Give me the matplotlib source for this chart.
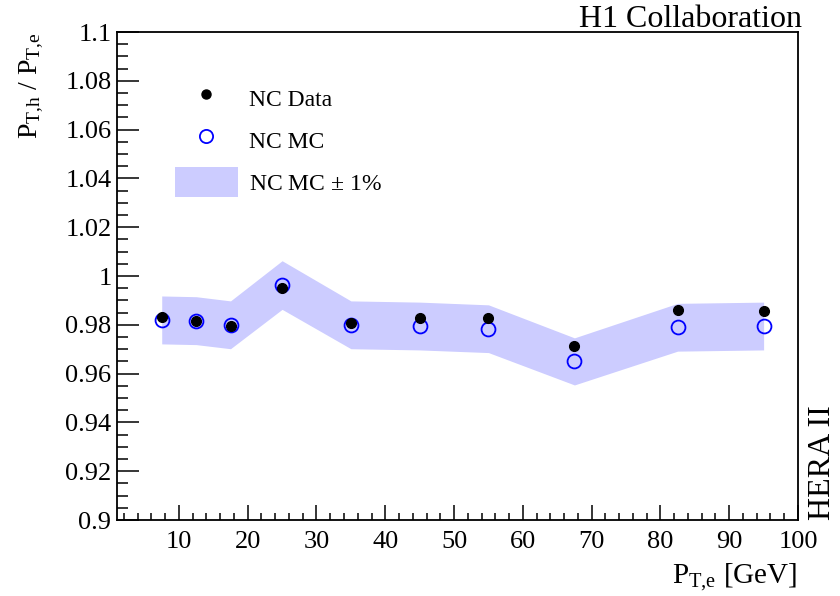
import numpy as np
import matplotlib
matplotlib.use("Agg")
import matplotlib.pyplot as plt
from matplotlib.lines import Line2D
from matplotlib.patches import Patch

# -----------------------------
# Dados
# -----------------------------
pt_e = [7.5, 12.5, 17.5, 25, 35, 45, 55, 67.5, 82.5, 95]
ratio_data = [0.9831, 0.9817, 0.9795, 0.9950, 0.9807, 0.9827, 0.9827, 0.9712, 0.9861, 0.9857]
ratio_data_err = [0.0003, 0.0003, 0.0003, 0.0004, 0.0004, 0.0005, 0.0006, 0.0007, 0.0008, 0.0012]
ratio_mc = [0.9820, 0.9817, 0.9800, 0.9963, 0.9800, 0.9795, 0.9784, 0.9650, 0.9790, 0.9795]
band_frac = 0.01

ytick_labels = ['0.9', '0.92', '0.94', '0.96', '0.98', '1', '1.02', '1.04',
                '1.06', '1.08', '1.1']

plt.rcParams['font.family'] = ['Liberation Serif', 'DejaVu Serif']
plt.rcParams['mathtext.fontset'] = 'custom'
plt.rcParams['mathtext.rm'] = 'Liberation Serif'
plt.rcParams['mathtext.it'] = 'Liberation Serif:italic'

fig = plt.figure(figsize=(8.4, 5.96), dpi=100)
ax = fig.add_axes([0.1393, 0.1275, 0.8107, 0.8188])

mc = np.array(ratio_mc)
ax.fill_between(pt_e, mc * (1 - band_frac), mc * (1 + band_frac),
                color='#ccccff', lw=0, zorder=1)
ax.errorbar(pt_e, ratio_data, yerr=ratio_data_err, fmt='o', color='black',
            ms=7, elinewidth=1, capsize=0, zorder=3)
ax.plot(pt_e, ratio_mc, 'o', mfc='none', mec='#0000ff', mew=1.3, ms=10, zorder=2)

ax.set_xlim(1, 100)
ax.set_ylim(0.9, 1.1)
ax.set_xticks(np.arange(10, 101, 10))
ax.set_xticks(np.arange(2, 101, 2), minor=True)
ax.set_yticks(np.linspace(0.9, 1.1, 11))
ax.set_yticks(np.linspace(0.9, 1.1, 41), minor=True)
ax.set_yticklabels(ytick_labels)

ax.tick_params(which='both', direction='in', labelsize=19, top=False, right=False,
               width=1.1)
ax.tick_params(axis='y', which='major', length=16, pad=4)
ax.tick_params(axis='y', which='minor', length=8)
ax.tick_params(axis='x', which='major', length=10.5, pad=8)
ax.tick_params(axis='x', which='minor', length=5.3)
for s in ax.spines.values():
    s.set_linewidth(1.3)

# rótulos dos eixos
fig.text(797 / 840, 1 - 583 / 596, 'P$_{\\mathrm{T{,}e}}$ [GeV]', ha='right',
         va='baseline', fontsize=21)
fig.text(46 / 840, 1 - 32 / 596, 'P$_{\\mathrm{T{,}h}}$ / P$_{\\mathrm{T{,}e}}$',
         rotation=90, rotation_mode='anchor', ha='right', va='bottom', fontsize=20)

fig.text(802 / 840, 1 - 27 / 596, 'H1 Collaboration', ha='right', va='baseline',
         fontsize=23)
fig.text(822 / 840, 1 - 520 / 596, 'HERA II', ha='center', va='bottom',
         rotation=90, fontsize=23)

handles = [
    Line2D([], [], ls='none', marker='o', color='black', ms=6.5),
    Line2D([], [], ls='none', marker='o', mfc='none', mec='#0000ff', mew=1.3, ms=9.5),
    Patch(facecolor='#ccccff', edgecolor='none'),
]
labels = ['NC Data', 'NC MC', 'NC MC $\\pm$ 1%']
ax.legend(handles, labels, loc='upper left', bbox_to_anchor=(175 / 840, 1 - 83 / 596),
          bbox_transform=fig.transFigure, frameon=False, fontsize=17,
          borderpad=0, borderaxespad=0, handlelength=2.65, handleheight=1.6,
          handletextpad=0.49, labelspacing=0.49)

fig.savefig('out.png', dpi=100)
